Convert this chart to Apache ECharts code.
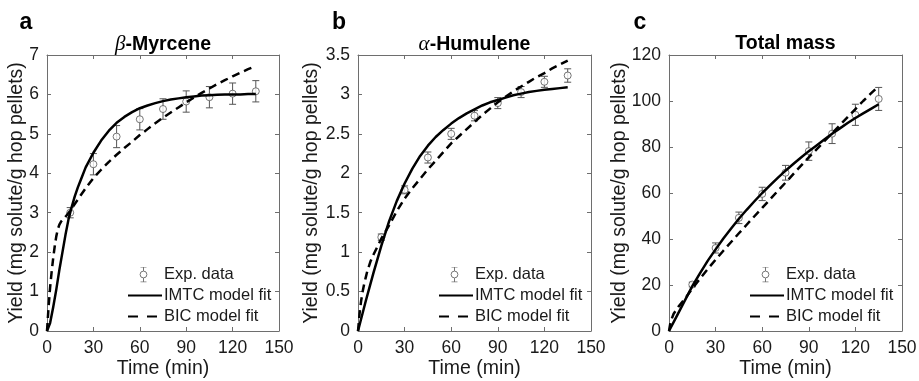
<!DOCTYPE html>
<html>
<head>
<meta charset="utf-8">
<script src="https://cdn.jsdelivr.net/npm/echarts@6/dist/echarts.min.js"></script>
<style>
html,body{margin:0;padding:0;background:#fff;}
#chart{width:919px;height:381px;}
</style>
</head>
<body>
<div id="chart"></div>
<script>
// ---------- data ----------
const timeTicks = [0, 30, 60, 90, 120, 150];
const timeExp = [15, 30, 45, 60, 75, 90, 105, 120, 135];

const myrceneExp = [3.00, 4.23, 4.93, 5.37, 5.63, 5.82, 5.93, 6.02, 6.08];
const myrceneErr = [0.13, 0.27, 0.28, 0.27, 0.26, 0.27, 0.27, 0.27, 0.27];
const myrceneImtcT = [0, 2, 4, 6, 8, 10, 12, 14, 16, 18, 20, 22, 25, 30, 35, 40, 45, 50, 55, 60, 65, 70, 75, 80, 85, 90, 95, 100, 105, 110, 115, 120, 125, 130, 135];
const myrceneImtcY = [0, 0.2, 0.6, 1.05, 1.55, 2.0, 2.45, 2.85, 3.15, 3.42, 3.65, 3.85, 4.15, 4.52, 4.83, 5.08, 5.28, 5.43, 5.55, 5.65, 5.72, 5.78, 5.83, 5.87, 5.9, 5.93, 5.95, 5.97, 5.98, 5.99, 6.0, 6.0, 6.0, 6.01, 6.01];
const myrceneBicT = [0, 1, 2, 3, 4, 5, 6, 7, 8, 9, 10, 12, 15, 20, 25, 30, 35, 40, 45, 50, 55, 60, 65, 70, 75, 80, 85, 90, 95, 100, 105, 110, 115, 120, 125, 130, 135];
const myrceneBicY = [0, 0.6, 1.1, 1.5, 1.85, 2.15, 2.4, 2.58, 2.7, 2.77, 2.82, 2.9, 3.05, 3.34, 3.62, 3.88, 4.09, 4.29, 4.47, 4.64, 4.8, 4.97, 5.12, 5.27, 5.41, 5.54, 5.67, 5.8, 5.92, 6.04, 6.15, 6.26, 6.36, 6.46, 6.55, 6.64, 6.72];

const humuleneExp = [1.19, 1.79, 2.20, 2.50, 2.73, 2.89, 3.03, 3.16, 3.24];
const humuleneErr = [0.04, 0.05, 0.07, 0.07, 0.065, 0.07, 0.07, 0.07, 0.085];
const humuleneImtcT = [0, 5, 10, 15, 20, 25, 30, 35, 40, 45, 50, 55, 60, 65, 70, 75, 80, 85, 90, 95, 100, 105, 110, 115, 120, 125, 130, 135];
const humuleneImtcY = [0, 0.38, 0.74, 1.08, 1.39, 1.65, 1.87, 2.06, 2.22, 2.35, 2.46, 2.55, 2.63, 2.7, 2.76, 2.81, 2.86, 2.9, 2.93, 2.96, 2.99, 3.01, 3.03, 3.045, 3.06, 3.07, 3.08, 3.09];
const humuleneBicT = [0, 1, 2, 3, 4, 5, 6, 8, 10, 12, 15, 20, 25, 30, 35, 40, 45, 50, 55, 60, 65, 70, 75, 80, 85, 90, 95, 100, 105, 110, 115, 120, 125, 130, 135];
const humuleneBicY = [0, 0.22, 0.38, 0.5, 0.6, 0.68, 0.76, 0.88, 0.97, 1.05, 1.17, 1.34, 1.52, 1.68, 1.81, 1.93, 2.05, 2.16, 2.27, 2.38, 2.47, 2.56, 2.65, 2.74, 2.82, 2.9, 2.97, 3.04, 3.1, 3.16, 3.22, 3.27, 3.33, 3.38, 3.43];

const totalExp = [20.2, 36.1, 49.2, 59.6, 68.8, 78.2, 85.8, 94.0, 100.9];
const totalErr = [1.0, 2.2, 2.5, 2.9, 3.2, 4.0, 4.3, 4.6, 5.0];
const totalImtcT = [0, 5, 10, 15, 20, 25, 30, 35, 40, 45, 50, 55, 60, 65, 70, 75, 80, 85, 90, 95, 100, 105, 110, 115, 120, 125, 130, 135];
const totalImtcY = [0, 6.5, 13, 19.5, 25.2, 30.6, 35.5, 40.2, 44.6, 48.8, 52.7, 56.4, 60, 63.3, 66.6, 69.7, 72.6, 75.4, 78.2, 80.7, 83.3, 85.8, 88.1, 90.4, 92.6, 94.6, 96.6, 98.6];
const totalBicT = [0, 1, 3, 6, 10, 15, 20, 25, 30, 35, 40, 45, 50, 55, 60, 65, 70, 75, 80, 85, 90, 95, 100, 105, 110, 115, 120, 125, 130, 135];
const totalBicY = [0, 4, 7.5, 10.5, 13.8, 18.5, 22.8, 27, 31, 34.9, 38.7, 42.5, 46.2, 49.9, 53.5, 57.2, 60.9, 64.5, 68.2, 71.9, 75.5, 79, 82.5, 86, 89.5, 93, 96.5, 100, 103.3, 106.5];

const panelLetters = ['a', 'b', 'c'];
const panelTitles = ['{g|β}-Myrcene', '{g|α}-Humulene', 'Total mass'];
const yMax = [7, 3.5, 120];
const yInterval = [1, 0.5, 20];
const xLabel = 'Time (min)';
const yLabel = 'Yield (mg solute/g hop pellets)';
const legendNames = ['Exp. data', 'IMTC model fit', 'BIC model fit'];

// ---------- layout / style ----------
const FONT = "'Liberation Sans', Arial, Helvetica, sans-serif";
const AXIS_C = '#6e6e6e';
const TEXT_C = '#1a1a1a';
const ERR_C = '#555555';
const grids = [
  {left: 47, top: 55, width: 232, height: 276},
  {left: 358, top: 55, width: 233, height: 276},
  {left: 669, top: 55, width: 233, height: 276}
];
const yNameGap = [20, 36, 39];
const letterX = [26, 339, 640];

const panels = [
  {exp: myrceneExp, err: myrceneErr, it: myrceneImtcT, iy: myrceneImtcY, bt: myrceneBicT, by: myrceneBicY},
  {exp: humuleneExp, err: humuleneErr, it: humuleneImtcT, iy: humuleneImtcY, bt: humuleneBicT, by: humuleneBicY},
  {exp: totalExp, err: totalErr, it: totalImtcT, iy: totalImtcY, bt: totalBicT, by: totalBicY}
];

const expIconSvg = "<svg xmlns='http://www.w3.org/2000/svg' width='34' height='16' viewBox='0 0 34 16'>" +
  "<g stroke='#555' stroke-width='1' fill='none'>" +
  "<line x1='15.5' y1='0.5' x2='15.5' y2='4.6'/><line x1='15.5' y1='11.4' x2='15.5' y2='15.5'/>" +
  "<line x1='12.5' y1='0.5' x2='18.5' y2='0.5'/><line x1='12.5' y1='15.5' x2='18.5' y2='15.5'/>" +
  "<circle cx='15.5' cy='8' r='3.4' fill='#fff'/></g></svg>";
const expIcon = 'image://data:image/svg+xml;charset=utf-8,' + encodeURIComponent(expIconSvg);
const hiddenSymbol = {color: 'rgba(0,0,0,0)', borderWidth: 0, opacity: 0};

function errRender(params, api) {
  const x = api.value(0), y = api.value(1), e = api.value(2);
  const top = api.coord([x, y + e]);
  const bot = api.coord([x, y - e]);
  const hw = 3.5;
  const st = {stroke: ERR_C, lineWidth: 1};
  return {
    type: 'group',
    children: [
      {type: 'line', shape: {x1: top[0], y1: top[1], x2: bot[0], y2: bot[1]}, style: st},
      {type: 'line', shape: {x1: top[0] - hw, y1: top[1], x2: top[0] + hw, y2: top[1]}, style: st},
      {type: 'line', shape: {x1: bot[0] - hw, y1: bot[1], x2: bot[0] + hw, y2: bot[1]}, style: st}
    ]
  };
}

const option = {
  animation: false,
  backgroundColor: '#ffffff',
  title: [],
  legend: [],
  grid: [],
  xAxis: [],
  yAxis: [],
  series: []
};

panels.forEach((p, i) => {
  const g = grids[i];
  option.grid.push(Object.assign({outerBoundsMode: 'none', containLabel: false}, g));

  option.title.push({
    text: panelTitles[i],
    left: g.left + g.width / 2,
    top: 34,
    padding: 0,
    textAlign: 'center',
    textStyle: {
      fontFamily: FONT, fontSize: 19.5, fontWeight: 'bold', color: '#000',
      rich: {g: {fontFamily: "'Liberation Serif', 'DejaVu Serif', serif", fontStyle: 'italic', fontWeight: 'normal', fontSize: 21, color: '#000'}}
    }
  });
  option.title.push({
    text: panelLetters[i],
    left: letterX[i],
    top: 11,
    padding: 0,
    textAlign: 'center',
    textStyle: {fontFamily: FONT, fontSize: 23, fontWeight: 'bold', color: '#000'}
  });

  option.legend.push({
    orient: 'vertical',
    left: g.left + 80,
    top: 266,
    padding: 0,
    itemWidth: 34,
    itemHeight: 16,
    itemGap: 4,
    selectedMode: false,
    textStyle: {fontFamily: FONT, fontSize: 16.5, color: TEXT_C, padding: [0, 0, 0, -3]},
    data: [
      {name: legendNames[0], icon: expIcon},
      {name: legendNames[1], itemStyle: hiddenSymbol},
      {name: legendNames[2], itemStyle: hiddenSymbol, lineStyle: {type: [10, 9]}}
    ]
  });

  const axisLine = {show: true, onZero: false, lineStyle: {color: AXIS_C, width: 1}};
  const axisTick = {show: true, inside: true, length: 4, lineStyle: {color: AXIS_C, width: 1}};
  const labelStyle = {fontFamily: FONT, fontSize: 17.5, color: TEXT_C, margin: 8};

  option.xAxis.push({
    type: 'value', gridIndex: i, min: timeTicks[0], max: timeTicks[timeTicks.length - 1], interval: 30,
    position: 'bottom',
    name: xLabel, nameLocation: 'middle', nameGap: 28, nameMoveOverlap: false,
    nameTextStyle: {fontFamily: FONT, fontSize: 19.5, color: TEXT_C},
    axisLine: axisLine, axisTick: axisTick, axisLabel: labelStyle, splitLine: {show: false}
  });
  option.xAxis.push({
    type: 'value', gridIndex: i, min: timeTicks[0], max: timeTicks[timeTicks.length - 1], interval: 30,
    position: 'top',
    axisLine: axisLine, axisTick: axisTick, axisLabel: {show: false}, splitLine: {show: false}
  });
  option.yAxis.push({
    type: 'value', gridIndex: i, min: 0, max: yMax[i], interval: yInterval[i],
    position: 'left',
    name: yLabel, nameLocation: 'middle', nameGap: yNameGap[i], nameMoveOverlap: false,
    nameTextStyle: {fontFamily: FONT, fontSize: 19.5, color: TEXT_C},
    axisLine: axisLine, axisTick: axisTick, axisLabel: labelStyle, splitLine: {show: false}
  });
  option.yAxis.push({
    type: 'value', gridIndex: i, min: 0, max: yMax[i], interval: yInterval[i],
    position: 'right',
    axisLine: axisLine, axisTick: axisTick, axisLabel: {show: false}, splitLine: {show: false}
  });

  const xi = i * 2, yi = i * 2;

  option.series.push({
    type: 'custom', name: 'Exp. error', xAxisIndex: xi, yAxisIndex: yi,
    renderItem: errRender, z: 2,
    encode: {x: 0, y: 1},
    data: timeExp.map((t, k) => [t, p.exp[k], p.err[k]])
  });
  option.series.push({
    type: 'scatter', name: legendNames[0], xAxisIndex: xi, yAxisIndex: yi, z: 3,
    symbol: 'circle', symbolSize: 7,
    itemStyle: {color: '#ffffff', borderColor: ERR_C, borderWidth: 1},
    data: timeExp.map((t, k) => [t, p.exp[k]])
  });
  option.series.push({
    type: 'line', name: legendNames[1], xAxisIndex: xi, yAxisIndex: yi, z: 4,
    symbol: 'none', showSymbol: false, smooth: false,
    lineStyle: {color: '#000', width: 2.5, type: 'solid', join: 'round'},
    itemStyle: {color: '#000'},
    data: p.it.map((t, k) => [t, p.iy[k]])
  });
  option.series.push({
    type: 'line', name: legendNames[2], xAxisIndex: xi, yAxisIndex: yi, z: 4,
    symbol: 'none', showSymbol: false, smooth: false,
    lineStyle: {color: '#000', width: 2.5, type: [8, 5], join: 'round'},
    itemStyle: {color: '#000'},
    data: p.bt.map((t, k) => [t, p.by[k]])
  });
});

const chart = echarts.init(document.getElementById('chart'), null, {renderer: 'canvas'});
chart.setOption(option);
</script>
</body>
</html>
